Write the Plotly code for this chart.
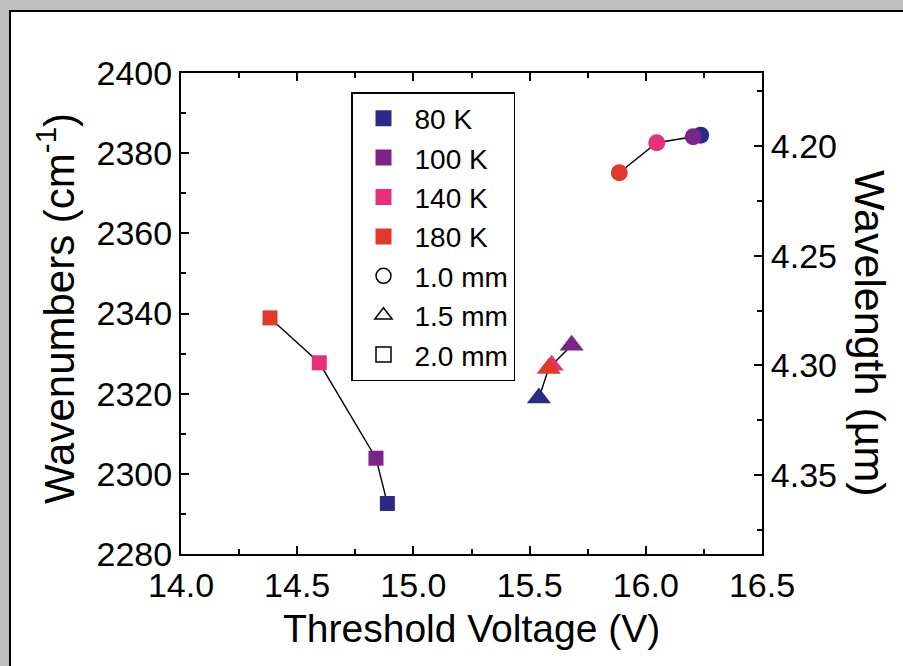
import plotly.graph_objects as go

# ---- data ----
temperatures = ["80 K", "100 K", "140 K", "180 K"]
temp_colors = ["#2c2a88", "#7b2589", "#e7307a", "#e0392c"]
ridge_widths = ["1.0 mm", "1.5 mm", "2.0 mm"]
width_symbols = ["circle", "triangle-up", "square"]

# per ridge width, values listed in the order of `temperatures`
voltage_1p0 = [16.236, 16.204, 16.047, 15.886]
wavenum_1p0 = [2384.5, 2384.1, 2382.6, 2375.1]
voltage_1p5 = [15.540, 15.681, 15.595, 15.582]
wavenum_1p5 = [2318.9, 2332.1, 2327.1, 2326.3]
voltage_2p0 = [14.888, 14.839, 14.595, 14.383]
wavenum_2p0 = [2292.6, 2303.9, 2327.7, 2338.9]

x_range = [14.0, 16.5]
y_range = [2280, 2400]
wl_range = [10000 / 2280, 10000 / 2400]

FONT = "Liberation Sans, Arial, sans-serif"
groups = [(voltage_1p0, wavenum_1p0), (voltage_1p5, wavenum_1p5), (voltage_2p0, wavenum_2p0)]
marker_sizes = [17, 21, 15]

fig = go.Figure()

# connecting lines (sorted by voltage)
for vx, wy in groups:
    pts = sorted(zip(vx, wy))
    fig.add_trace(go.Scatter(x=[p[0] for p in pts], y=[p[1] for p in pts], mode="lines",
                             line=dict(color="black", width=1.4), showlegend=False, hoverinfo="skip"))

# markers, one trace per temperature
for ti, (tname, col) in enumerate(zip(temperatures, temp_colors)):
    fig.add_trace(go.Scatter(
        x=[g[0][ti] for g in groups], y=[g[1][ti] for g in groups], mode="markers",
        marker=dict(color=col, symbol=width_symbols, size=marker_sizes, opacity=1, line=dict(width=0)),
        showlegend=False, name=tname))

# legend entries
for tname, col in zip(temperatures, temp_colors):
    fig.add_trace(go.Scatter(x=[None], y=[None], mode="markers", name=tname,
                             marker=dict(color=col, symbol="square", size=16)))
for wname, sym in zip(ridge_widths, width_symbols):
    fig.add_trace(go.Scatter(x=[None], y=[None], mode="markers", name=wname,
                             marker=dict(color="white", symbol=sym, size=15,
                                         line=dict(color="black", width=1.5))))

# dummy trace on the wavelength axis so it is drawn
fig.add_trace(go.Scatter(x=[None], y=[None], yaxis="y2", showlegend=False))

L, R, T, B = 181, 141, 73, 112
W, H = 903, 666
pw, ph = W - L - R, H - T - B

def px_x(p):
    return (p - L) / pw

def px_y(p):
    return (H - B - p) / ph

fig.add_shape(type="rect", xref="paper", yref="paper", layer="below",
              x0=px_x(10), x1=px_x(W + 20), y0=px_y(H + 20), y1=px_y(11),
              fillcolor="white", line=dict(color="black", width=2))

tickfont = dict(family=FONT, size=34, color="black")
fig.update_layout(
    width=W, height=H,
    margin=dict(l=L, r=R, t=T, b=B, pad=0),
    paper_bgcolor="#c0c0c0", plot_bgcolor="rgba(0,0,0,0)",
    font=dict(family=FONT, color="black"),
    xaxis=dict(range=x_range, dtick=0.5, tick0=14, tickformat=".1f",
               ticks="inside", ticklen=8, tickwidth=1.5, tickcolor="black",
               minor=dict(dtick=0.25, ticks="inside", ticklen=5, tickwidth=1.5, tickcolor="black"),
               showline=True, linecolor="black", linewidth=2, mirror="ticks",
               showgrid=False, zeroline=False, tickfont=tickfont),
    yaxis=dict(range=y_range, dtick=20, tick0=2280,
               ticks="inside", ticklen=8, tickwidth=1.5, tickcolor="black",
               minor=dict(dtick=10, ticks="inside", ticklen=5, tickwidth=1.5, tickcolor="black"),
               showline=True, linecolor="black", linewidth=2,
               showgrid=False, zeroline=False, tickfont=tickfont),
    yaxis2=dict(range=wl_range, overlaying="y", side="right", anchor="x",
                dtick=0.05, tick0=4.2, tickformat=".2f",
                ticks="inside", ticklen=8, tickwidth=1.5, tickcolor="black",
                minor=dict(dtick=0.025, ticks="inside", ticklen=5, tickwidth=1.5, tickcolor="black"),
                showline=True, linecolor="black", linewidth=2,
                showgrid=False, zeroline=False, tickfont=tickfont),
    legend=dict(x=px_x(351), y=px_y(92), xanchor="left", yanchor="top",
                bgcolor="white", bordercolor="black", borderwidth=1.5,
                font=dict(family=FONT, size=28, color="black"),
                itemsizing="trace", itemwidth=52, tracegroupgap=0),
    showlegend=True,
)

fig.add_annotation(text="Threshold Voltage (V)", xref="paper", yref="paper",
                   x=0.5, y=px_y(628), xanchor="center", yanchor="middle", showarrow=False,
                   font=dict(family=FONT, size=39, color="black"))
fig.add_annotation(text="Wavenumbers (cm<sup>-1</sup>)", xref="paper", yref="paper",
                   x=px_x(56), y=px_y(309), xanchor="center", yanchor="middle", showarrow=False,
                   textangle=-90, font=dict(family=FONT, size=42, color="black"))
fig.add_annotation(text="Wavelength (µm)", xref="paper", yref="paper",
                   x=px_x(870), y=px_y(333), xanchor="center", yanchor="middle", showarrow=False,
                   textangle=90, font=dict(family=FONT, size=43, color="black"))

fig.write_html("out.html",
               config={"displayModeBar": False},
               post_script="document.body.style.margin='0';document.body.style.padding='0';"
                           "document.body.style.background='#c0c0c0';"
                           "document.documentElement.style.overflow='hidden';")
